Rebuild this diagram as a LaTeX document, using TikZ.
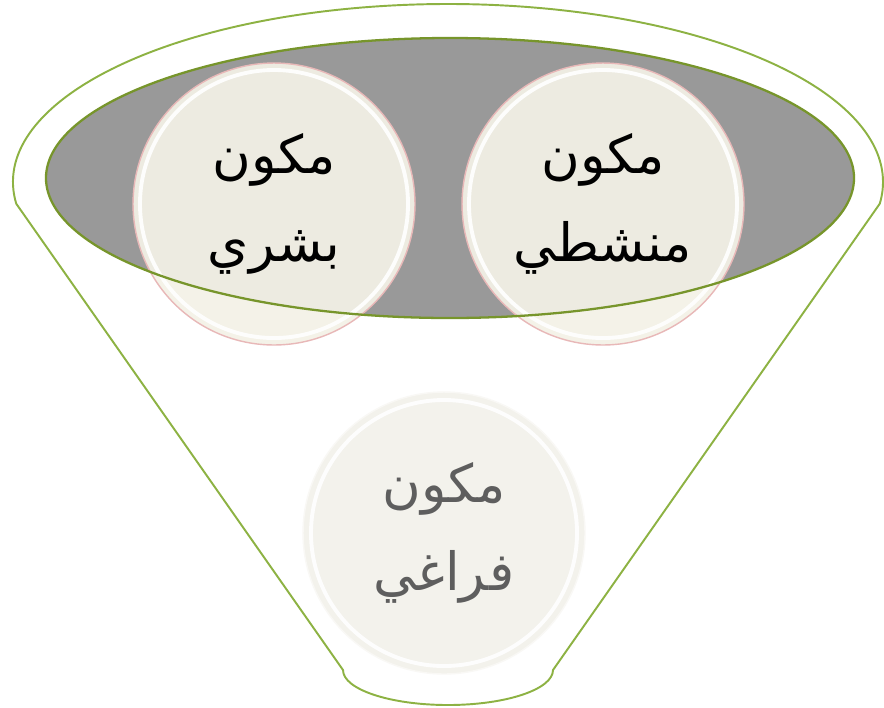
\documentclass[tikz,border=0pt]{standalone}
\usepackage{fontspec}
\usepackage{tikz}
\newfontfamily\arabicfont[Script=Arabic]{DejaVu Sans}
\TeXXeTstate=1
\definecolor{funnelgreen}{HTML}{8DB243}
\definecolor{brimgreen}{HTML}{77952B}
\definecolor{holegrey}{HTML}{999999}
\definecolor{ballcream}{HTML}{F4F2E7}
\definecolor{ballpink}{HTML}{E8B8B8}
\definecolor{lowcream}{HTML}{F3F2EC}
\definecolor{lowtext}{HTML}{5E5E5E}

\tikzset{
  ball/.style={circle, minimum size=5.64cm, inner sep=0pt, align=center,
    fill=ballcream, fill opacity=0.93, text opacity=1,
    draw=ballpink, draw opacity=1, line width=0.8pt,
    font=\arabicfont\fontsize{30}{50}\selectfont},
  shine/.style={draw=white, line width=2.2pt, opacity=0.9}
}

\begin{document}
\begin{tikzpicture}[x=0.02cm,y=-0.02cm]
  \useasboundingbox (0,0) rectangle (884,707);
  % funnel body
  \draw[draw=funnelgreen, line width=1.1pt, fill=white]
    (448,182) ++(173:435 and 178)
    arc[start angle=173, end angle=367, x radius=435, y radius=178]
    -- (553,670) arc[start angle=0, end angle=180, x radius=105, y radius=35]
    -- cycle;
  % mouth of the funnel
  \fill[holegrey] (450,178) ellipse[x radius=404, y radius=140];
  \node[ball] (human) at (274,204) {\beginR مكون\endR\\\beginR بشري\endR};
  \node[ball] (activity) at (603,204) {\beginR مكون\endR\\\beginR منشطي\endR};
  \draw[shine] (human.center) circle[radius=134];
  \draw[shine] (activity.center) circle[radius=134];
  \draw[brimgreen, line width=1.3pt] (450,178) ellipse[x radius=404, y radius=140];
  % spout
  \node[ball, fill=lowcream, fill opacity=1, draw=lowcream!50!white, text=lowtext]
    (space) at (444,533) {\beginR مكون\endR\\\beginR فراغي\endR};
  \draw[shine] (space.center) circle[radius=133];
\end{tikzpicture}
\end{document}
